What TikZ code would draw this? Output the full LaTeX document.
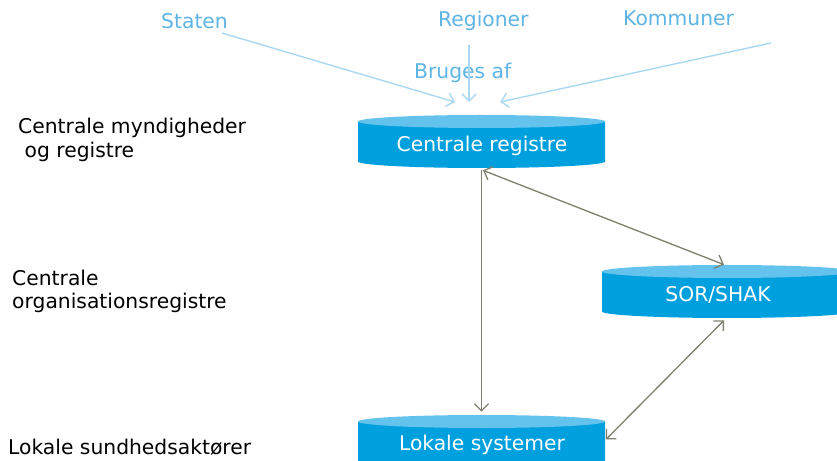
\documentclass[tikz,border=0pt]{standalone}
\usepackage{fontspec}
\setmainfont{DejaVu Sans}
\usetikzlibrary{arrows.meta}
\usetikzlibrary{positioning}
\usetikzlibrary{calc}

\definecolor{cylbody}{RGB}{0,160,223}
\definecolor{cyltop}{RGB}{100,195,236}
\definecolor{usecol}{RGB}{93,180,229}
\definecolor{uselink}{RGB}{170,216,242}
\definecolor{linkgray}{RGB}{128,128,112}

\tikzset{
  cyl box/.style={rectangle,inner sep=0pt,minimum width=247*0.5669pt,minimum height=53*0.5669pt},
  cyl text/.style={text=white,font=\fontsize{11.5}{14}\selectfont},
  level text/.style={anchor=west,align=left,font=\fontsize{11.5}{13.2}\selectfont},
  user text/.style={text=usecol,font=\fontsize{11.5}{14}\selectfont},
  user link/.style={-{Straight Barb[length=4pt,width=8pt]},uselink,line width=0.8pt},
  reg link/.style={-{Straight Barb[length=4pt,width=8pt]},linkgray,line width=0.75pt},
  both link/.style={{Straight Barb[length=4pt,width=8pt]}-{Straight Barb[length=4pt,width=8pt]}},
}

% cylinder: centre x, top y, bottom y, half width
\newcommand{\regcyl}[4]{%
  \fill[cylbody] (#1-#4,#2+6.5) -- (#1-#4,#3) arc[start angle=180,end angle=360,x radius=#4,y radius=-6.5] -- (#1+#4,#2+6.5) -- cycle;
  \fill[cyltop] (#1,#2+6.5) ellipse[x radius=#4,y radius=6.5];
}

\begin{document}
\begin{tikzpicture}[x=0.5669pt,y=-0.5669pt]
  \useasboundingbox (0,0) rectangle (837,461);
  \clip (0,0) rectangle (837,461);

  % registre
  \regcyl{481.5}{115}{161.5}{123.5}
  \regcyl{727}{265}{311.5}{125}
  \regcyl{481.5}{415}{480}{123.5}

  \node[cyl box] (cr) at (481.5,141.5) {};
  \node[cyl box,minimum width=250*0.5669pt] (sor) at (727,291.5) {};
  \node[cyl box] (ls) at (481.5,441.5) {};

  \node[cyl text] (cr-txt) at (482,146) {Centrale registre};
  \node[cyl text] (sor-txt) at (718,295) {SOR/SHAK};
  \node[cyl text] (ls-txt) at (482,445) {Lokale systemer};

  % niveauer
  \node[level text] (lvl1) at (12,140) {Centrale myndigheder\\\ og registre};
  \node[level text] (lvl2) at (6,291.5) {Centrale\\organisationsregistre};
  \node[level text] (lvl3) at (2,447) {Lokale sundhedsaktører};

  % brugere
  \node[user text,anchor=west] (staten) at (155,21) {Staten};
  \node[user text,anchor=west] (regioner) at (432,21) {Regioner};
  \node[user text,anchor=west] (kommuner) at (617,18) {Kommuner};
  \node[user text,anchor=west] (bruges) at (408,73) {Bruges af};

  \coordinate (staten-end) at (222,33);
  \coordinate (regioner-end) at (469,45);
  \coordinate (kommuner-end) at (771,43);
  \coordinate (use1) at (455,102);
  \coordinate (use2) at (469,102);
  \coordinate (use3) at (500,102);

  \draw[user link] (staten-end) -- (use1);
  \draw[user link] (regioner-end) -- (use2);
  \draw[user link] (kommuner-end) -- (use3);

  % forbindelser
  \draw[reg link] ($(cr.south)+(0,2)$) -- ($(ls.north)+(0,-3)$);
  \draw[reg link,both link] ($(cr.south)+(1.5,2)$) -- ($(sor.north)+(-3,0)$);
  \draw[reg link,both link] ($(sor.south)+(-3,2)$) -- ($(ls.east)+(0.5,-2)$);
\end{tikzpicture}
\end{document}
